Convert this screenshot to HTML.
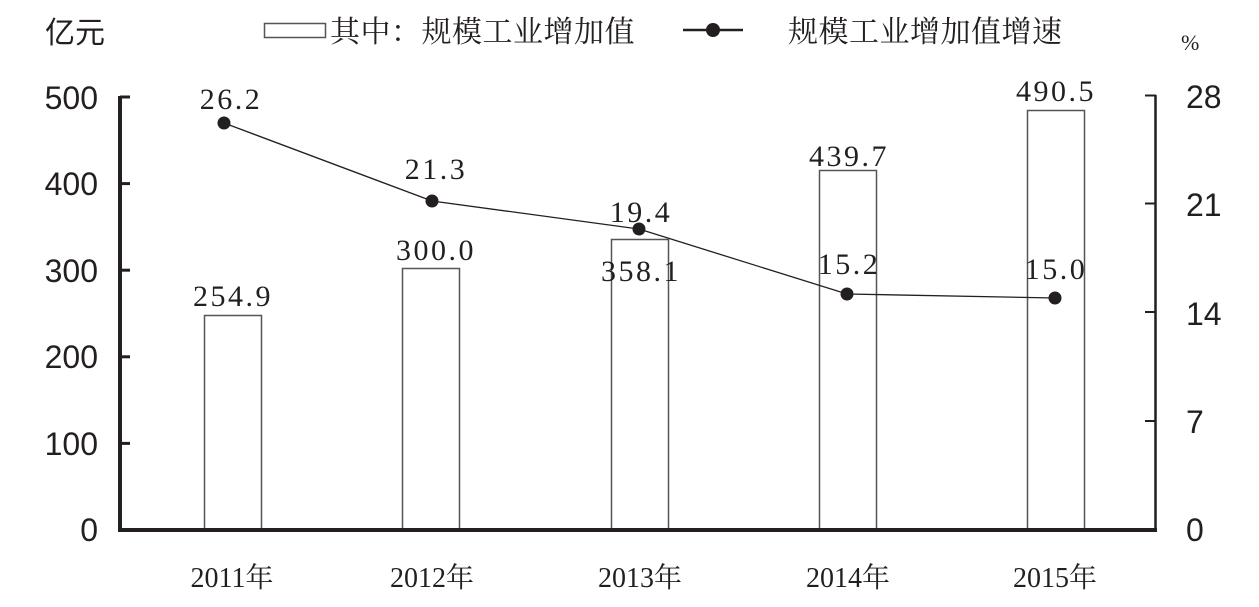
<!DOCTYPE html>
<html><head><meta charset="utf-8"><style>
html,body{margin:0;padding:0;background:#fff;}
svg{display:block;}
.cn{font-family:"Liberation Serif","Noto Serif CJK SC",serif;fill:#231f20;}
.ax{font-family:"Liberation Sans",sans-serif;fill:#231f20;font-size:32px;}
.v{font-family:"Liberation Serif",serif;fill:#231f20;font-size:30px;letter-spacing:2.5px;}
</style></head><body>
<svg width="1259" height="607" viewBox="0 0 1259 607">
<text x="45" y="43" class="cn" style="font-size:30px;font-family:'Liberation Sans','Noto Sans CJK SC',sans-serif">亿元</text>
<rect x="264.5" y="23.5" width="61" height="14" fill="#fff" stroke="#555" stroke-width="1.5"/>
<text x="330" y="42" class="cn" style="font-size:30px;letter-spacing:0.5px">其中：规模工业增加值</text>
<line x1="683" y1="30" x2="743" y2="30" stroke="#231f20" stroke-width="2.5"/>
<circle cx="713" cy="30" r="7" fill="#231f20"/>
<text x="788" y="42" class="cn" style="font-size:30px;letter-spacing:0.5px">规模工业增加值增速</text>
<text x="1181" y="50" class="cn" style="font-size:22px">%</text>

<g fill="#fff" stroke="#555" stroke-width="1.5">
<rect x="204.5" y="315.5" width="57" height="215"/>
<rect x="402.5" y="268.5" width="57" height="262"/>
<rect x="611.5" y="239.5" width="57" height="291"/>
<rect x="819.5" y="170.5" width="57" height="360"/>
<rect x="1027.5" y="110.5" width="57" height="420"/>
</g>

<g stroke="#231f20">
<line x1="120" y1="96" x2="120" y2="531" stroke-width="4"/>
<line x1="118" y1="530" x2="1157" y2="530" stroke-width="4"/>
<line x1="1155.5" y1="95" x2="1155.5" y2="531" stroke-width="2.5"/>
<g stroke-width="3">
<line x1="120" y1="97" x2="130" y2="97"/>
<line x1="120" y1="183.6" x2="130" y2="183.6"/>
<line x1="120" y1="270.2" x2="130" y2="270.2"/>
<line x1="120" y1="356.8" x2="130" y2="356.8"/>
<line x1="120" y1="443.4" x2="130" y2="443.4"/>
</g>
<g stroke-width="2">
<line x1="1145" y1="95.5" x2="1156" y2="95.5"/>
<line x1="1145" y1="203.5" x2="1156" y2="203.5"/>
<line x1="1145" y1="312" x2="1156" y2="312"/>
<line x1="1145" y1="421" x2="1156" y2="421"/>
</g>
</g>
<g class="ax" text-anchor="end">
<text x="98" y="109">500</text>
<text x="98" y="195">400</text>
<text x="98" y="282">300</text>
<text x="98" y="368">200</text>
<text x="98" y="455">100</text>
<text x="98" y="541">0</text>
</g>
<g class="ax">
<text x="1186" y="108">28</text>
<text x="1186" y="216">21</text>
<text x="1186" y="325">14</text>
<text x="1186" y="433">7</text>
<text x="1186" y="541">0</text>
</g>

<polyline points="224,123 432,201 639,229 847,294 1055,298" fill="none" stroke="#231f20" stroke-width="1.3"/>
<g fill="#231f20">
<circle cx="224" cy="123" r="6.5"/>
<circle cx="432" cy="201" r="6.5"/>
<circle cx="639" cy="229" r="6.5"/>
<circle cx="847" cy="294" r="6.5"/>
<circle cx="1055" cy="298" r="6.5"/>
</g>

<g class="v" text-anchor="middle">
<text x="231" y="109">26.2</text>
<text x="436" y="179">21.3</text>
<text x="641" y="222">19.4</text>
<text x="641" y="281">358.1</text>
<text x="849" y="274">15.2</text>
<text x="1056" y="279">15.0</text>
<text x="233" y="306">254.9</text>
<text x="436" y="260">300.0</text>
<text x="849" y="166">439.7</text>
<text x="1056" y="101">490.5</text>
</g>

<g class="cn" style="font-size:28px" text-anchor="middle">
<text x="232" y="587">2011年</text>
<text x="432" y="587">2012年</text>
<text x="640" y="587">2013年</text>
<text x="848" y="587">2014年</text>
<text x="1055" y="587">2015年</text>
</g>
</svg>
</body></html>
